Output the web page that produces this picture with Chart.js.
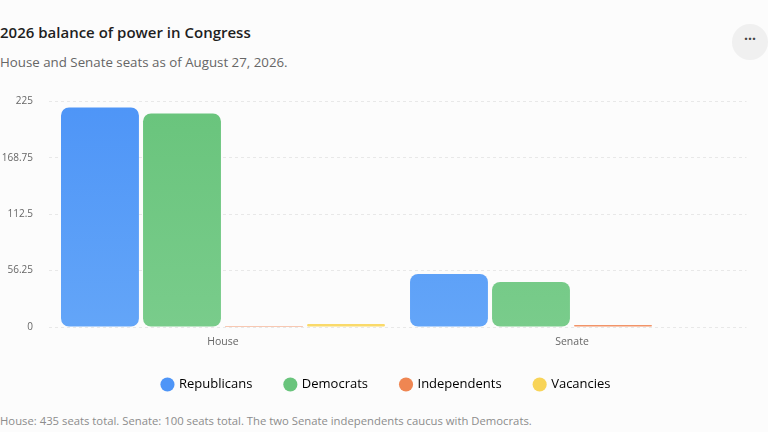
<!DOCTYPE html>
<html>
<head>
<meta charset="utf-8">
<script src="https://cdn.jsdelivr.net/npm/chart.js@4"></script>
<style>
  html, body { margin: 0; padding: 0; background: #fcfcfc; width: 768px; height: 432px; overflow: hidden; font-family: "Open Sans", "Noto Sans", sans-serif; }
  #title { position: absolute; left: 0; top: 22px; font-size: 15px; font-weight: 600; color: #1f1f1f; }
  #subtitle { position: absolute; left: 0; top: 53px; font-size: 13.3px; color: #666; }
  #footer { position: absolute; left: 0; top: 413px; font-size: 11.3px; color: #8c8c8c; }
  #menu { position: absolute; left: 732px; top: 24px; width: 36px; height: 36px; border-radius: 50%; background: #f0f0f0; color: #444; text-align: center; line-height: 30px; font-size: 14px; font-weight: 700; }
  #wrap { position: absolute; left: 0; top: 80px; width: 768px; height: 327px; }
</style>
</head>
<body>
<div id="title">2026 balance of power in Congress</div>
<div id="subtitle">House and Senate seats as of August 27, 2026.</div>
<div id="menu">···</div>
<div id="wrap"><canvas id="c"></canvas></div>
<div id="footer">House: 435 seats total. Senate: 100 seats total. The two Senate independents caucus with Democrats.</div>
<script>
const categories = ["House", "Senate"];
const seriesNames = ["Republicans", "Democrats", "Independents", "Vacancies"];
const republicans = [219, 53];
const democrats = [213, 45];
const independents = [1, 2];
const vacancies = [3, 0];
const yTicks = [0, 56.25, 112.5, 168.75, 225];

const topColors = ["#4e95f7", "#69c47c", "#ef8652", "#f8d458"];
const bottomColors = ["#63a5f8", "#79cc8b", "#f29468", "#fada6a"];
const FONT = "'Open Sans', 'Noto Sans', sans-serif";

function grad(i) {
  return function(ctx) {
    const chart = ctx.chart;
    const a = chart.chartArea;
    if (!a) return topColors[i];
    const g = chart.ctx.createLinearGradient(0, a.top, 0, a.bottom);
    g.addColorStop(0, topColors[i]);
    g.addColorStop(1, bottomColors[i]);
    return g;
  };
}

const values = [republicans, democrats, independents, vacancies];
const datasets = seriesNames.map((n, i) => ({
  label: n,
  data: values[i],
  backgroundColor: grad(i),
  borderWidth: 0,
  borderRadius: 8,
  borderSkipped: false,
  barPercentage: 0.95,
  categoryPercentage: 0.94
}));

const legendShift = {
  id: "legendShift",
  afterLayout(chart) {
    const lg = chart.legend;
    if (!lg) return;
    const d = 386.5 - (lg.left + lg.right) / 2;
    lg.left += d; lg.right += d;
    lg.top -= 6; lg.bottom -= 6;
  }
};

new Chart(document.getElementById("c"), {
  type: "bar",
  data: { labels: categories, datasets },
  plugins: [legendShift],
  options: {
    responsive: true,
    maintainAspectRatio: false,
    animation: false,
    layout: { padding: { left: 0, right: 21.5, top: 0, bottom: 0 } },
    plugins: {
      tooltip: { enabled: false },
      legend: {
        position: "bottom",
        labels: {
          usePointStyle: true,
          pointStyle: "circle",
          boxWidth: 10,
          boxHeight: 10,
          padding: 33,
          color: "#333",
          font: { size: 13, family: FONT },
          generateLabels(chart) {
            return chart.data.datasets.map((d, i) => ({
              text: d.label,
              fillStyle: topColors[i],
              strokeStyle: topColors[i],
              lineWidth: 0,
              pointStyle: "circle",
              datasetIndex: i,
              hidden: false
            }));
          }
        }
      }
    },
    scales: {
      x: {
        grid: { display: false, drawTicks: false },
        border: { display: false },
        afterFit(scale) { scale.height = 24; },
        ticks: { color: "#666", font: { size: 10.5, family: FONT }, padding: 9 }
      },
      y: {
        min: 0,
        max: 225,
        afterBuildTicks(scale) { scale.ticks = yTicks.map(v => ({ value: v })); },
        afterFit(scale) { scale.width = 48.5; },
        grid: { color: "#e8e8e8", drawTicks: false },
        border: { display: false, dash: [3, 3] },
        ticks: { color: "#666", font: { size: 10, family: FONT }, padding: 15.5, callback: v => String(v) }
      }
    }
  }
});
</script>
</body>
</html>
